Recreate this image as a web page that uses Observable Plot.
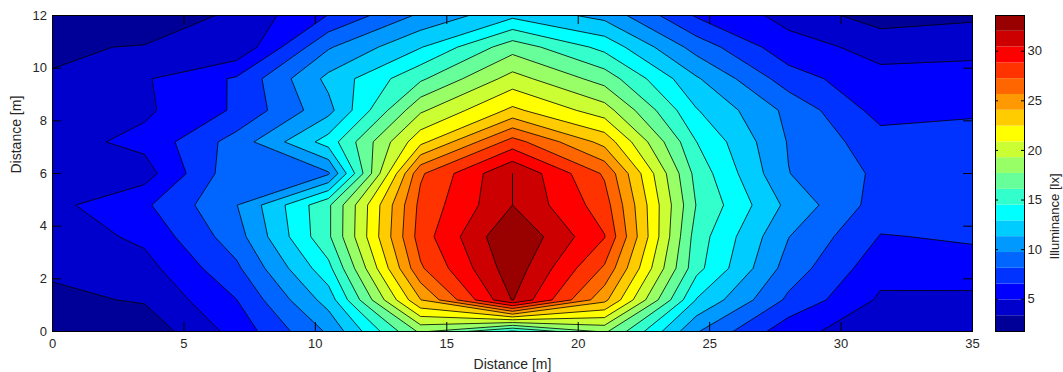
<!DOCTYPE html>
<html>
<head>
<meta charset="utf-8">
<script src="https://cdn.jsdelivr.net/npm/d3@7"></script>
<script src="https://cdn.jsdelivr.net/npm/@observablehq/plot@0.6"></script>
<style>
  html, body { margin: 0; padding: 0; background: #fff; }
  #wrap { position: relative; width: 1063px; height: 372px; overflow: hidden; }
  #wrap svg { position: absolute; top: 0; }
</style>
</head>
<body>
<div id="wrap"></div>
<script>
// Grid of measurement positions
const xs = [0, 3.5, 7, 10.5, 14, 17.5, 21, 24.5, 28, 31.5, 35];
const ys = [0, 1.2, 2.4, 3.6, 4.8, 6.0, 7.2, 8.4, 9.6, 10.8, 12];

// Illuminance [lx], one row per y (from y = 0 upward), one column per x
const illum = [
  [1.75, 2.30, 5.50,  9.95, 18.0, 14.20, 18.0,  9.84,  5.50, 3.90, 3.80],
  [3.00, 3.49, 6.50, 12.00, 24.0, 32.10, 24.5, 12.80,  7.80, 4.70, 4.50],
  [3.60, 4.35, 7.80, 14.00, 27.0, 33.00, 27.0, 15.00,  9.00, 5.50, 6.00],
  [4.00, 5.30, 9.00, 15.80, 28.0, 33.60, 28.9, 15.30,  9.75, 6.45, 6.70],
  [4.50, 6.26, 9.66, 15.80, 27.7, 32.01, 28.0, 16.00, 10.87, 7.37, 7.00],
  [4.20, 4.23, 9.30,  9.50, 27.0, 32.01, 27.0, 15.50,  9.75, 7.80, 7.00],
  [4.30, 5.40, 8.80, 13.60, 22.0, 27.90, 23.5, 14.50,  9.60, 7.20, 6.90],
  [4.10, 4.66, 6.75, 10.80, 19.0, 22.80, 20.0, 13.00,  9.30, 5.90, 6.40],
  [3.41, 4.78, 6.73, 11.75, 15.8, 19.90, 17.0, 11.50,  7.30, 5.30, 5.40],
  [3.19, 3.42, 3.62,  9.54, 12.8, 17.00, 14.0,  9.05,  5.50, 4.50, 4.60],
  [2.00, 2.30, 3.65,  6.58, 10.0, 12.50, 10.8,  6.35,  4.45, 2.50, 3.00]
];

// Contour levels (20 bands between min and max)
const levels = [3.34, 4.94, 6.53, 8.12, 9.71, 11.31, 12.90, 14.49, 16.08, 17.68,
                19.27, 20.86, 22.45, 24.05, 25.64, 27.23, 28.82, 30.42, 32.01];

// Band colours (jet, 20 steps)
const bandColors = ["#000099", "#0000CC", "#0000FF", "#0033FF", "#0066FF", "#0099FF", "#00CCFF",
                    "#00FFFF", "#33FFCC", "#66FF99", "#99FF66", "#CCFF33", "#FFFF00", "#FFCC00",
                    "#FF9900", "#FF6600", "#FF3300", "#FF0000", "#CC0000", "#990000"];

const xTicks = [0, 5, 10, 15, 20, 25, 30, 35];
const yTicks = [0, 2, 4, 6, 8, 10, 12];
const cTicks = [5, 10, 15, 20, 25, 30];

const xLabel = "Distance [m]";
const yLabel = "Distance [m]";
const cLabel = "Illuminance [lx]";

const flat = illum.flat();
const vMin = d3.min(flat), vMax = d3.max(flat);
const dx = xs[1] - xs[0], dy = ys[1] - ys[0];

const font = "Arial, 'Liberation Sans', Helvetica, sans-serif";
const textColor = "#262626";

// layout
const W = 1063, H = 372;
const mL = 52, mR = 91, mT = 15, mB = 41;
const frameW = W - mL - mR, frameH = H - mT - mB;
const tickLen = 9;

const main = Plot.plot({
  width: W,
  height: H,
  marginLeft: mL,
  marginRight: mR,
  marginTop: mT,
  marginBottom: mB,
  x: {domain: [0, 35]},
  y: {domain: [0, 12]},
  color: {type: "threshold", domain: levels, range: bandColors},
  style: {fontFamily: font, fontSize: "13px", color: textColor, background: "transparent", overflow: "visible"},
  marks: [
    Plot.frame({fill: bandColors[0]}),
    Plot.contour(flat, {
      width: xs.length,
      height: ys.length,
      x1: xs[0] - dx / 2,
      x2: xs[xs.length - 1] + dx / 2,
      y1: ys[0] - dy / 2,
      y2: ys[ys.length - 1] + dy / 2,
      fill: Plot.identity,
      thresholds: levels,
      stroke: "#000",
      strokeWidth: 0.8,
      clip: true
    }),
    // inward tick marks on all four sides
    Plot.tickX(xTicks, {x: d => d, insetTop: frameH - tickLen, stroke: "#000"}),
    Plot.tickX(xTicks, {x: d => d, insetBottom: frameH - tickLen, stroke: "#000"}),
    Plot.tickY(yTicks, {y: d => d, insetRight: frameW - tickLen, stroke: "#000"}),
    Plot.tickY(yTicks, {y: d => d, insetLeft: frameW - tickLen, stroke: "#000"}),
    Plot.frame({stroke: "#000", strokeWidth: 1}),
    Plot.axisX(xTicks, {anchor: "bottom", tickSize: 0, tickPadding: 7, label: null}),
    Plot.axisY(yTicks, {anchor: "left", tickSize: 0, tickPadding: 5.5, label: null}),
    Plot.text([xLabel], {frameAnchor: "bottom", dy: 37, fontSize: 14, fill: textColor}),
    Plot.text([yLabel], {frameAnchor: "left", dx: -36, rotate: -90, fontSize: 14, fill: textColor})
  ]
});

// Colour bar bands
const bandEdges = [vMin, ...levels, vMax];
const bands = bandColors.map((c, i) => ({lo: bandEdges[i], hi: bandEdges[i + 1], color: c}));

const cbW = 83, cbL = 15, cbR = 39;
const cbFrameW = cbW - cbL - cbR;
const cbTick = 3;

const bar = Plot.plot({
  width: cbW,
  height: H,
  marginLeft: cbL,
  marginRight: cbR,
  marginTop: mT,
  marginBottom: mB,
  x: {axis: null},
  y: {domain: [vMin, vMax], axis: null},
  style: {fontFamily: font, fontSize: "13px", color: textColor, background: "transparent", overflow: "visible"},
  marks: [
    Plot.rect(bands, {y1: "lo", y2: "hi", fill: "color"}),
    Plot.tickY(cTicks, {y: d => d, insetLeft: cbFrameW - cbTick, stroke: "#000"}),
    Plot.tickY(cTicks, {y: d => d, insetRight: cbFrameW - cbTick, stroke: "#000"}),
    Plot.frame({stroke: "#000", strokeWidth: 1}),
    Plot.axisY(cTicks, {anchor: "right", tickSize: 0, tickPadding: 3, label: null}),
    Plot.text([cLabel], {frameAnchor: "right", dx: 30, rotate: -90, fontSize: 13, fill: textColor})
  ]
});

const wrap = document.getElementById("wrap");
main.style.left = "0px";
bar.style.left = "980px";
wrap.appendChild(main);
wrap.appendChild(bar);
</script>
</body>
</html>
